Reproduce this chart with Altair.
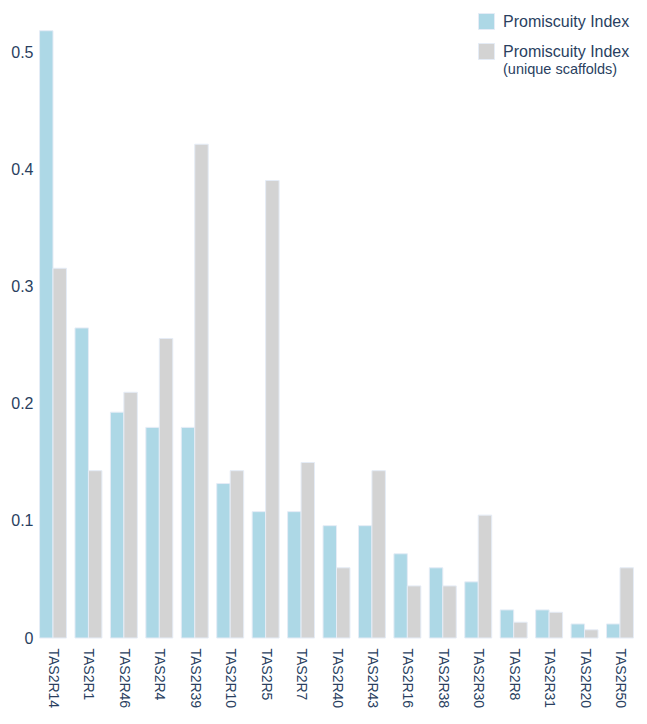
import altair as alt
import pandas as pd

receptors = ["TAS2R14", "TAS2R1", "TAS2R46", "TAS2R4", "TAS2R39", "TAS2R10", "TAS2R5", "TAS2R7",
             "TAS2R40", "TAS2R43", "TAS2R16", "TAS2R38", "TAS2R30", "TAS2R8", "TAS2R31", "TAS2R20", "TAS2R50"]
promiscuity = [0.519, 0.265, 0.193, 0.180, 0.180, 0.132, 0.108, 0.108,
               0.096, 0.096, 0.072, 0.060, 0.048, 0.024, 0.024, 0.012, 0.012]
promiscuity_unique = [0.316, 0.143, 0.210, 0.256, 0.422, 0.143, 0.391, 0.150,
                      0.060, 0.143, 0.0445, 0.0445, 0.105, 0.0135, 0.022, 0.007, 0.060]
series_names = ["Promiscuity Index", "Promiscuity Index (unique scaffolds)"]
series_colors = ["#ADD8E6", "#D3D3D3"]
legend_subtitle = ["(unique scaffolds)"]

rows = []
for r, a, b in zip(receptors, promiscuity, promiscuity_unique):
    rows.append({"receptor": r, "series": series_names[0], "value": a})
    rows.append({"receptor": r, "series": series_names[1], "value": b})
df = pd.DataFrame(rows)

TXT = "#2a3f5f"
FONT = "Liberation Sans"

bars = alt.Chart(df).mark_bar(stroke="#E5ECF6", strokeWidth=1).encode(
    x=alt.X("receptor:N", sort=receptors, title=None,
            scale=alt.Scale(paddingInner=0.24, paddingOuter=0.1),
            axis=alt.Axis(labelAngle=90, labelFontSize=14, labelPadding=10,
                          labelColor=TXT, labelFont=FONT, domain=False, ticks=False)),
    xOffset=alt.XOffset("series:N", sort=series_names, scale=alt.Scale(paddingInner=0, paddingOuter=0)),
    y=alt.Y("value:Q", title=None, scale=alt.Scale(domain=[0, 0.535], nice=False),
            axis=alt.Axis(values=[0, 0.1, 0.2, 0.3, 0.4, 0.5], format="~g", labelFontSize=16,
                          labelPadding=3, labelColor=TXT, labelFont=FONT,
                          domain=False, ticks=False, grid=False)),
    color=alt.Color("series:N", sort=series_names,
                    scale=alt.Scale(domain=series_names, range=series_colors),
                    legend=alt.Legend(title=None, orient="none", legendX=442, legendY=1,
                                      symbolType="square", symbolSize=256, symbolStrokeWidth=1,
                                      symbolStrokeColor="#E5ECF6",
                                      labelFontSize=16, labelColor=TXT, labelFont=FONT,
                                      labelOffset=8, rowPadding=9,
                                      labelExpr="datum.label == 'Promiscuity Index (unique scaffolds)' ? 'Promiscuity Index' : datum.label")),
)

subtitle = alt.Chart(pd.DataFrame({"t": legend_subtitle})).mark_text(
    align="left", baseline="middle", fontSize=14.5, color=TXT, font=FONT
).encode(text="t:N", x=alt.value(467), y=alt.value(58))

chart = alt.layer(bars, subtitle).properties(
    width=601, height=626,
    autosize=alt.AutoSizeParams(type="none"),
    padding={"left": 28, "top": 4, "right": 2, "bottom": 70},
).configure_view(stroke=None)

chart.save("out.html", embed_options={"renderer": "svg", "actions": False})
